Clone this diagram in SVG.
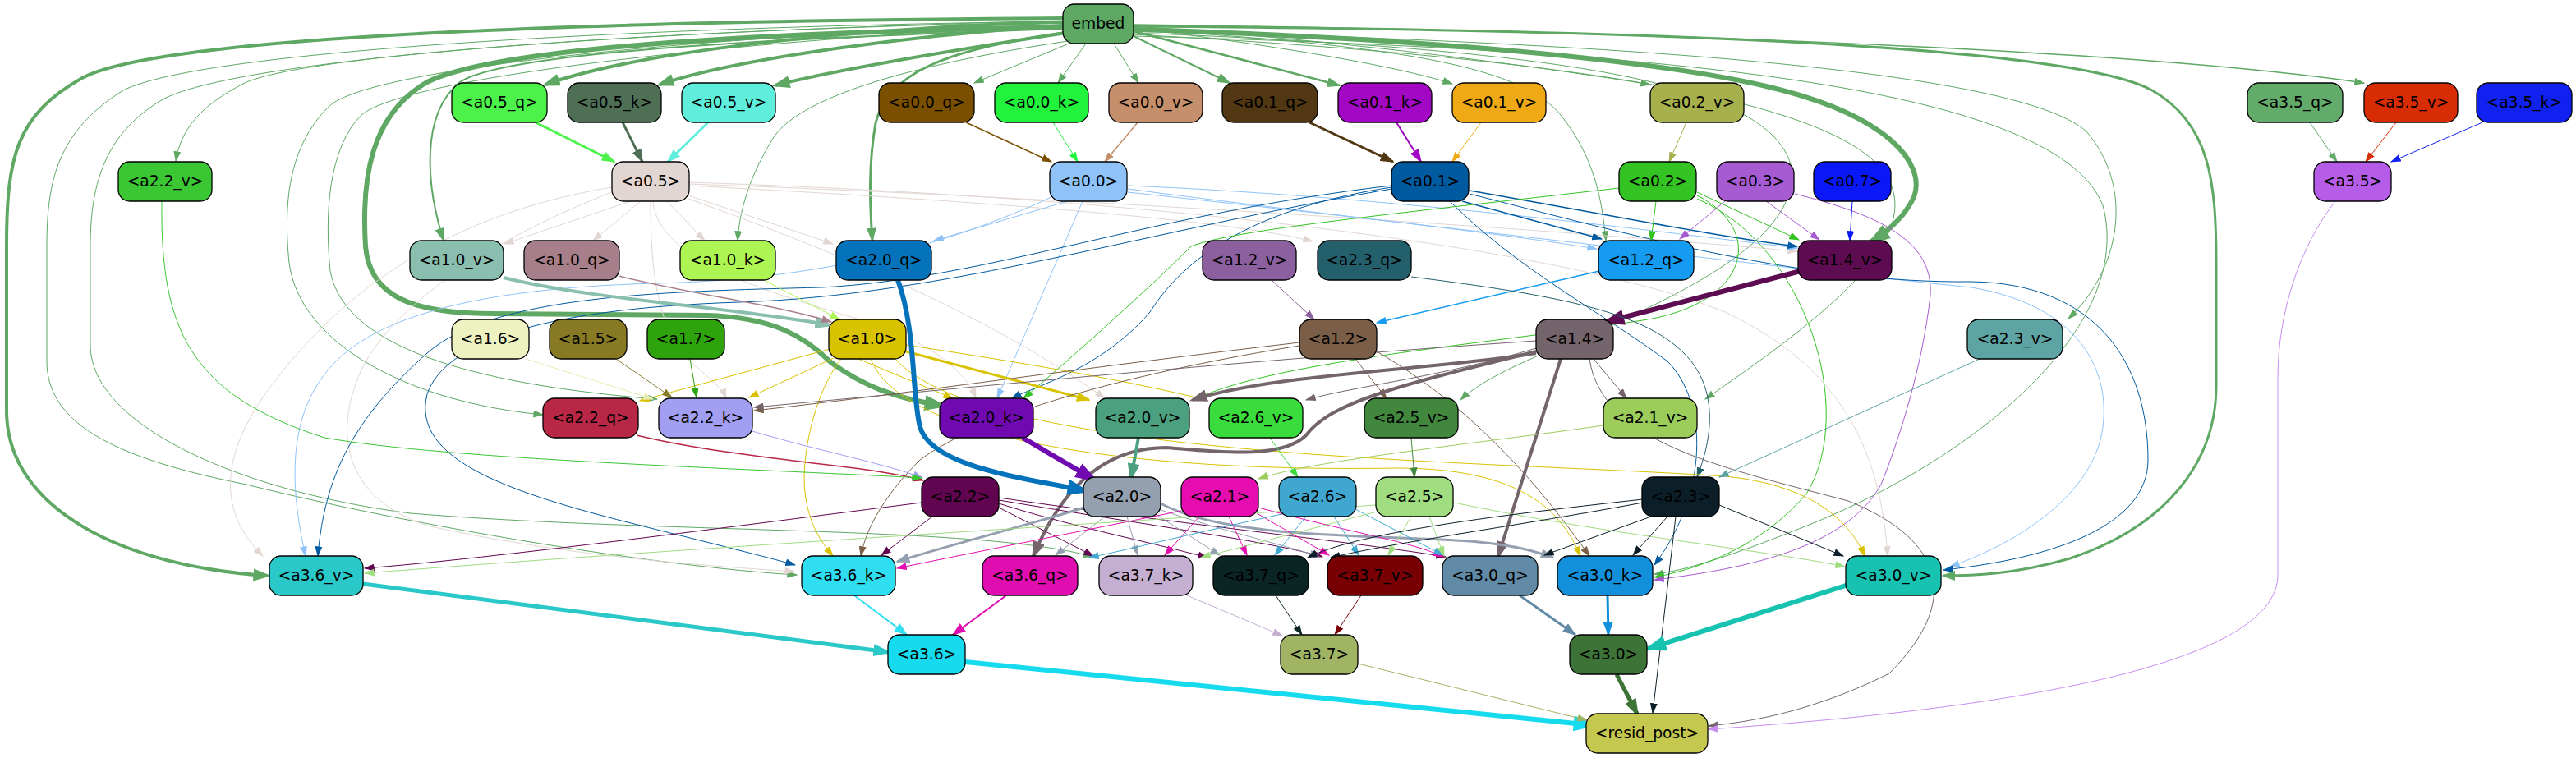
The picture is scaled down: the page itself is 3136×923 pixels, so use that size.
<svg xmlns="http://www.w3.org/2000/svg" width="3136" height="923" viewBox="0 0 3136 923">
<style>
.n rect{stroke:#000;stroke-width:1.3}
.n text{font-family:"DejaVu Sans","Liberation Sans",sans-serif;font-size:18.67px;text-anchor:middle;fill:#000}
#edges path{fill:none}
</style>
<defs>
<marker id="s-emb" viewBox="0 0 10 10" refX="9" refY="5" markerWidth="13" markerHeight="9" markerUnits="userSpaceOnUse" orient="auto" preserveAspectRatio="none"><path d="M0,0L10,5L0,10z" fill="#5ea864"/></marker>
<marker id="m-emb" viewBox="0 0 10 10" refX="9" refY="5" markerWidth="17" markerHeight="12" markerUnits="userSpaceOnUse" orient="auto" preserveAspectRatio="none"><path d="M0,0L10,5L0,10z" fill="#5ea864"/></marker>
<marker id="l-emb" viewBox="0 0 10 10" refX="8" refY="5" markerWidth="22" markerHeight="15" markerUnits="userSpaceOnUse" orient="auto" preserveAspectRatio="none"><path d="M0,0L10,5L0,10z" fill="#5ea864"/></marker>
<marker id="x-emb" viewBox="0 0 10 10" refX="8" refY="5" markerWidth="28" markerHeight="19" markerUnits="userSpaceOnUse" orient="auto" preserveAspectRatio="none"><path d="M0,0L10,5L0,10z" fill="#5ea864"/></marker>
<marker id="m-a05q" viewBox="0 0 10 10" refX="9" refY="5" markerWidth="17" markerHeight="12" markerUnits="userSpaceOnUse" orient="auto" preserveAspectRatio="none"><path d="M0,0L10,5L0,10z" fill="#4cf24a"/></marker>
<marker id="m-a05k" viewBox="0 0 10 10" refX="9" refY="5" markerWidth="17" markerHeight="12" markerUnits="userSpaceOnUse" orient="auto" preserveAspectRatio="none"><path d="M0,0L10,5L0,10z" fill="#4f6f54"/></marker>
<marker id="m-a05v" viewBox="0 0 10 10" refX="9" refY="5" markerWidth="17" markerHeight="12" markerUnits="userSpaceOnUse" orient="auto" preserveAspectRatio="none"><path d="M0,0L10,5L0,10z" fill="#5eeedb"/></marker>
<marker id="s-a00q" viewBox="0 0 10 10" refX="9" refY="5" markerWidth="13" markerHeight="9" markerUnits="userSpaceOnUse" orient="auto" preserveAspectRatio="none"><path d="M0,0L10,5L0,10z" fill="#7a5000"/></marker>
<marker id="s-a00k" viewBox="0 0 10 10" refX="9" refY="5" markerWidth="13" markerHeight="9" markerUnits="userSpaceOnUse" orient="auto" preserveAspectRatio="none"><path d="M0,0L10,5L0,10z" fill="#21f23c"/></marker>
<marker id="s-a00v" viewBox="0 0 10 10" refX="9" refY="5" markerWidth="13" markerHeight="9" markerUnits="userSpaceOnUse" orient="auto" preserveAspectRatio="none"><path d="M0,0L10,5L0,10z" fill="#c48f6a"/></marker>
<marker id="m-a01q" viewBox="0 0 10 10" refX="9" refY="5" markerWidth="17" markerHeight="12" markerUnits="userSpaceOnUse" orient="auto" preserveAspectRatio="none"><path d="M0,0L10,5L0,10z" fill="#523812"/></marker>
<marker id="m-a01k" viewBox="0 0 10 10" refX="9" refY="5" markerWidth="17" markerHeight="12" markerUnits="userSpaceOnUse" orient="auto" preserveAspectRatio="none"><path d="M0,0L10,5L0,10z" fill="#a208c4"/></marker>
<marker id="s-a01v" viewBox="0 0 10 10" refX="9" refY="5" markerWidth="13" markerHeight="9" markerUnits="userSpaceOnUse" orient="auto" preserveAspectRatio="none"><path d="M0,0L10,5L0,10z" fill="#eea914"/></marker>
<marker id="s-a02v" viewBox="0 0 10 10" refX="9" refY="5" markerWidth="13" markerHeight="9" markerUnits="userSpaceOnUse" orient="auto" preserveAspectRatio="none"><path d="M0,0L10,5L0,10z" fill="#a6b04c"/></marker>
<marker id="s-a35q" viewBox="0 0 10 10" refX="9" refY="5" markerWidth="13" markerHeight="9" markerUnits="userSpaceOnUse" orient="auto" preserveAspectRatio="none"><path d="M0,0L10,5L0,10z" fill="#63ab6a"/></marker>
<marker id="s-a35v" viewBox="0 0 10 10" refX="9" refY="5" markerWidth="13" markerHeight="9" markerUnits="userSpaceOnUse" orient="auto" preserveAspectRatio="none"><path d="M0,0L10,5L0,10z" fill="#d82c04"/></marker>
<marker id="s-a35k" viewBox="0 0 10 10" refX="9" refY="5" markerWidth="13" markerHeight="9" markerUnits="userSpaceOnUse" orient="auto" preserveAspectRatio="none"><path d="M0,0L10,5L0,10z" fill="#1021f0"/></marker>
<marker id="s-a05" viewBox="0 0 10 10" refX="9" refY="5" markerWidth="13" markerHeight="9" markerUnits="userSpaceOnUse" orient="auto" preserveAspectRatio="none"><path d="M0,0L10,5L0,10z" fill="#e2d6d2"/></marker>
<marker id="s-a00" viewBox="0 0 10 10" refX="9" refY="5" markerWidth="13" markerHeight="9" markerUnits="userSpaceOnUse" orient="auto" preserveAspectRatio="none"><path d="M0,0L10,5L0,10z" fill="#8fc3f8"/></marker>
<marker id="s-a01" viewBox="0 0 10 10" refX="9" refY="5" markerWidth="13" markerHeight="9" markerUnits="userSpaceOnUse" orient="auto" preserveAspectRatio="none"><path d="M0,0L10,5L0,10z" fill="#005aa0"/></marker>
<marker id="s-a02" viewBox="0 0 10 10" refX="9" refY="5" markerWidth="13" markerHeight="9" markerUnits="userSpaceOnUse" orient="auto" preserveAspectRatio="none"><path d="M0,0L10,5L0,10z" fill="#33c322"/></marker>
<marker id="s-a03" viewBox="0 0 10 10" refX="9" refY="5" markerWidth="13" markerHeight="9" markerUnits="userSpaceOnUse" orient="auto" preserveAspectRatio="none"><path d="M0,0L10,5L0,10z" fill="#a75bd3"/></marker>
<marker id="s-a07" viewBox="0 0 10 10" refX="9" refY="5" markerWidth="13" markerHeight="9" markerUnits="userSpaceOnUse" orient="auto" preserveAspectRatio="none"><path d="M0,0L10,5L0,10z" fill="#0a17f6"/></marker>
<marker id="l-a10v" viewBox="0 0 10 10" refX="8" refY="5" markerWidth="22" markerHeight="15" markerUnits="userSpaceOnUse" orient="auto" preserveAspectRatio="none"><path d="M0,0L10,5L0,10z" fill="#8abfb0"/></marker>
<marker id="s-a10q" viewBox="0 0 10 10" refX="9" refY="5" markerWidth="13" markerHeight="9" markerUnits="userSpaceOnUse" orient="auto" preserveAspectRatio="none"><path d="M0,0L10,5L0,10z" fill="#a67f8b"/></marker>
<marker id="s-a10k" viewBox="0 0 10 10" refX="9" refY="5" markerWidth="13" markerHeight="9" markerUnits="userSpaceOnUse" orient="auto" preserveAspectRatio="none"><path d="M0,0L10,5L0,10z" fill="#acf552"/></marker>
<marker id="s-a12v" viewBox="0 0 10 10" refX="9" refY="5" markerWidth="13" markerHeight="9" markerUnits="userSpaceOnUse" orient="auto" preserveAspectRatio="none"><path d="M0,0L10,5L0,10z" fill="#8c5f9f"/></marker>
<marker id="s-a12q" viewBox="0 0 10 10" refX="9" refY="5" markerWidth="13" markerHeight="9" markerUnits="userSpaceOnUse" orient="auto" preserveAspectRatio="none"><path d="M0,0L10,5L0,10z" fill="#159bf0"/></marker>
<marker id="x-a14v" viewBox="0 0 10 10" refX="8" refY="5" markerWidth="28" markerHeight="19" markerUnits="userSpaceOnUse" orient="auto" preserveAspectRatio="none"><path d="M0,0L10,5L0,10z" fill="#5d0c52"/></marker>
<marker id="s-a23q" viewBox="0 0 10 10" refX="9" refY="5" markerWidth="13" markerHeight="9" markerUnits="userSpaceOnUse" orient="auto" preserveAspectRatio="none"><path d="M0,0L10,5L0,10z" fill="#245f6c"/></marker>
<marker id="s-a10" viewBox="0 0 10 10" refX="9" refY="5" markerWidth="13" markerHeight="9" markerUnits="userSpaceOnUse" orient="auto" preserveAspectRatio="none"><path d="M0,0L10,5L0,10z" fill="#d9c200"/></marker>
<marker id="m-a10" viewBox="0 0 10 10" refX="9" refY="5" markerWidth="17" markerHeight="12" markerUnits="userSpaceOnUse" orient="auto" preserveAspectRatio="none"><path d="M0,0L10,5L0,10z" fill="#d9c200"/></marker>
<marker id="s-a16" viewBox="0 0 10 10" refX="9" refY="5" markerWidth="13" markerHeight="9" markerUnits="userSpaceOnUse" orient="auto" preserveAspectRatio="none"><path d="M0,0L10,5L0,10z" fill="#e8ecb4"/></marker>
<marker id="s-a15" viewBox="0 0 10 10" refX="9" refY="5" markerWidth="13" markerHeight="9" markerUnits="userSpaceOnUse" orient="auto" preserveAspectRatio="none"><path d="M0,0L10,5L0,10z" fill="#887a24"/></marker>
<marker id="s-a17" viewBox="0 0 10 10" refX="9" refY="5" markerWidth="13" markerHeight="9" markerUnits="userSpaceOnUse" orient="auto" preserveAspectRatio="none"><path d="M0,0L10,5L0,10z" fill="#2ea30c"/></marker>
<marker id="s-a12" viewBox="0 0 10 10" refX="9" refY="5" markerWidth="13" markerHeight="9" markerUnits="userSpaceOnUse" orient="auto" preserveAspectRatio="none"><path d="M0,0L10,5L0,10z" fill="#7a5e47"/></marker>
<marker id="s-a14" viewBox="0 0 10 10" refX="9" refY="5" markerWidth="13" markerHeight="9" markerUnits="userSpaceOnUse" orient="auto" preserveAspectRatio="none"><path d="M0,0L10,5L0,10z" fill="#74646c"/></marker>
<marker id="l-a14" viewBox="0 0 10 10" refX="8" refY="5" markerWidth="22" markerHeight="15" markerUnits="userSpaceOnUse" orient="auto" preserveAspectRatio="none"><path d="M0,0L10,5L0,10z" fill="#74646c"/></marker>
<marker id="s-a23v" viewBox="0 0 10 10" refX="9" refY="5" markerWidth="13" markerHeight="9" markerUnits="userSpaceOnUse" orient="auto" preserveAspectRatio="none"><path d="M0,0L10,5L0,10z" fill="#5ea4a4"/></marker>
<marker id="s-a22q" viewBox="0 0 10 10" refX="9" refY="5" markerWidth="13" markerHeight="9" markerUnits="userSpaceOnUse" orient="auto" preserveAspectRatio="none"><path d="M0,0L10,5L0,10z" fill="#b82746"/></marker>
<marker id="s-a22k" viewBox="0 0 10 10" refX="9" refY="5" markerWidth="13" markerHeight="9" markerUnits="userSpaceOnUse" orient="auto" preserveAspectRatio="none"><path d="M0,0L10,5L0,10z" fill="#a29ef2"/></marker>
<marker id="s-a22v" viewBox="0 0 10 10" refX="9" refY="5" markerWidth="13" markerHeight="9" markerUnits="userSpaceOnUse" orient="auto" preserveAspectRatio="none"><path d="M0,0L10,5L0,10z" fill="#3bc634"/></marker>
<marker id="x-a20q" viewBox="0 0 10 10" refX="8" refY="5" markerWidth="28" markerHeight="19" markerUnits="userSpaceOnUse" orient="auto" preserveAspectRatio="none"><path d="M0,0L10,5L0,10z" fill="#0473bb"/></marker>
<marker id="x-a20k" viewBox="0 0 10 10" refX="8" refY="5" markerWidth="28" markerHeight="19" markerUnits="userSpaceOnUse" orient="auto" preserveAspectRatio="none"><path d="M0,0L10,5L0,10z" fill="#700ab0"/></marker>
<marker id="l-a20v" viewBox="0 0 10 10" refX="8" refY="5" markerWidth="22" markerHeight="15" markerUnits="userSpaceOnUse" orient="auto" preserveAspectRatio="none"><path d="M0,0L10,5L0,10z" fill="#4ba17f"/></marker>
<marker id="s-a21v" viewBox="0 0 10 10" refX="9" refY="5" markerWidth="13" markerHeight="9" markerUnits="userSpaceOnUse" orient="auto" preserveAspectRatio="none"><path d="M0,0L10,5L0,10z" fill="#9ccc5a"/></marker>
<marker id="s-a26v" viewBox="0 0 10 10" refX="9" refY="5" markerWidth="13" markerHeight="9" markerUnits="userSpaceOnUse" orient="auto" preserveAspectRatio="none"><path d="M0,0L10,5L0,10z" fill="#39dc3c"/></marker>
<marker id="s-a25v" viewBox="0 0 10 10" refX="9" refY="5" markerWidth="13" markerHeight="9" markerUnits="userSpaceOnUse" orient="auto" preserveAspectRatio="none"><path d="M0,0L10,5L0,10z" fill="#41873d"/></marker>
<marker id="s-a22" viewBox="0 0 10 10" refX="9" refY="5" markerWidth="13" markerHeight="9" markerUnits="userSpaceOnUse" orient="auto" preserveAspectRatio="none"><path d="M0,0L10,5L0,10z" fill="#620550"/></marker>
<marker id="s-a20" viewBox="0 0 10 10" refX="9" refY="5" markerWidth="13" markerHeight="9" markerUnits="userSpaceOnUse" orient="auto" preserveAspectRatio="none"><path d="M0,0L10,5L0,10z" fill="#94a0b0"/></marker>
<marker id="m-a20" viewBox="0 0 10 10" refX="9" refY="5" markerWidth="17" markerHeight="12" markerUnits="userSpaceOnUse" orient="auto" preserveAspectRatio="none"><path d="M0,0L10,5L0,10z" fill="#94a0b0"/></marker>
<marker id="s-a21" viewBox="0 0 10 10" refX="9" refY="5" markerWidth="13" markerHeight="9" markerUnits="userSpaceOnUse" orient="auto" preserveAspectRatio="none"><path d="M0,0L10,5L0,10z" fill="#e60db0"/></marker>
<marker id="s-a26" viewBox="0 0 10 10" refX="9" refY="5" markerWidth="13" markerHeight="9" markerUnits="userSpaceOnUse" orient="auto" preserveAspectRatio="none"><path d="M0,0L10,5L0,10z" fill="#40a8d0"/></marker>
<marker id="s-a25" viewBox="0 0 10 10" refX="9" refY="5" markerWidth="13" markerHeight="9" markerUnits="userSpaceOnUse" orient="auto" preserveAspectRatio="none"><path d="M0,0L10,5L0,10z" fill="#a0dc80"/></marker>
<marker id="s-a23" viewBox="0 0 10 10" refX="9" refY="5" markerWidth="13" markerHeight="9" markerUnits="userSpaceOnUse" orient="auto" preserveAspectRatio="none"><path d="M0,0L10,5L0,10z" fill="#0c1f28"/></marker>
<marker id="l-a36v" viewBox="0 0 10 10" refX="8" refY="5" markerWidth="22" markerHeight="15" markerUnits="userSpaceOnUse" orient="auto" preserveAspectRatio="none"><path d="M0,0L10,5L0,10z" fill="#2ac8c8"/></marker>
<marker id="m-a36k" viewBox="0 0 10 10" refX="9" refY="5" markerWidth="17" markerHeight="12" markerUnits="userSpaceOnUse" orient="auto" preserveAspectRatio="none"><path d="M0,0L10,5L0,10z" fill="#30def2"/></marker>
<marker id="m-a36q" viewBox="0 0 10 10" refX="9" refY="5" markerWidth="17" markerHeight="12" markerUnits="userSpaceOnUse" orient="auto" preserveAspectRatio="none"><path d="M0,0L10,5L0,10z" fill="#e00eb0"/></marker>
<marker id="s-a37k" viewBox="0 0 10 10" refX="9" refY="5" markerWidth="13" markerHeight="9" markerUnits="userSpaceOnUse" orient="auto" preserveAspectRatio="none"><path d="M0,0L10,5L0,10z" fill="#c4aed2"/></marker>
<marker id="s-a37q" viewBox="0 0 10 10" refX="9" refY="5" markerWidth="13" markerHeight="9" markerUnits="userSpaceOnUse" orient="auto" preserveAspectRatio="none"><path d="M0,0L10,5L0,10z" fill="#0b2424"/></marker>
<marker id="s-a37v" viewBox="0 0 10 10" refX="9" refY="5" markerWidth="13" markerHeight="9" markerUnits="userSpaceOnUse" orient="auto" preserveAspectRatio="none"><path d="M0,0L10,5L0,10z" fill="#780005"/></marker>
<marker id="m-a30q" viewBox="0 0 10 10" refX="9" refY="5" markerWidth="17" markerHeight="12" markerUnits="userSpaceOnUse" orient="auto" preserveAspectRatio="none"><path d="M0,0L10,5L0,10z" fill="#608aa6"/></marker>
<marker id="m-a30k" viewBox="0 0 10 10" refX="9" refY="5" markerWidth="17" markerHeight="12" markerUnits="userSpaceOnUse" orient="auto" preserveAspectRatio="none"><path d="M0,0L10,5L0,10z" fill="#1390dc"/></marker>
<marker id="x-a30v" viewBox="0 0 10 10" refX="8" refY="5" markerWidth="28" markerHeight="19" markerUnits="userSpaceOnUse" orient="auto" preserveAspectRatio="none"><path d="M0,0L10,5L0,10z" fill="#18c2b0"/></marker>
<marker id="x-a36" viewBox="0 0 10 10" refX="8" refY="5" markerWidth="28" markerHeight="19" markerUnits="userSpaceOnUse" orient="auto" preserveAspectRatio="none"><path d="M0,0L10,5L0,10z" fill="#16dbef"/></marker>
<marker id="s-a37" viewBox="0 0 10 10" refX="9" refY="5" markerWidth="13" markerHeight="9" markerUnits="userSpaceOnUse" orient="auto" preserveAspectRatio="none"><path d="M0,0L10,5L0,10z" fill="#a0b464"/></marker>
<marker id="l-a30" viewBox="0 0 10 10" refX="8" refY="5" markerWidth="22" markerHeight="15" markerUnits="userSpaceOnUse" orient="auto" preserveAspectRatio="none"><path d="M0,0L10,5L0,10z" fill="#3e7338"/></marker>
<marker id="s-a35" viewBox="0 0 10 10" refX="9" refY="5" markerWidth="13" markerHeight="9" markerUnits="userSpaceOnUse" orient="auto" preserveAspectRatio="none"><path d="M0,0L10,5L0,10z" fill="#c98cf0"/></marker>
</defs>
<rect width="3136" height="923" fill="#fff"/>
<g id="edges">
<g stroke="#5ea864">
<path stroke-width="4" marker-end="url(#l-emb)" d="M1294,27 C1100,32 800,55 664,103"/>
<path stroke-width="4" marker-end="url(#l-emb)" d="M1294,31 C1120,42 900,70 803,103"/>
<path stroke-width="4" marker-end="url(#l-emb)" d="M1298,40 C1200,55 1030,82 944,104"/>
<path stroke-width="1" marker-end="url(#s-emb)" d="M1306,51 L1186,101"/>
<path stroke-width="1" marker-end="url(#s-emb)" d="M1322,53 L1288,101"/>
<path stroke-width="1" marker-end="url(#s-emb)" d="M1356,53 L1386,101"/>
<path stroke-width="2" marker-end="url(#m-emb)" d="M1380,44 L1497,101"/>
<path stroke-width="2.5" marker-end="url(#m-emb)" d="M1380,38 L1631,104"/>
<path stroke-width="1" marker-end="url(#s-emb)" d="M1380,34 C1550,55 1700,80 1768,102"/>
<path stroke-width="1" marker-end="url(#s-emb)" d="M1380,32 C1650,50 1900,85 2009,103"/>
<path stroke-width="1.5" marker-end="url(#s-emb)" d="M1380,30 C2000,38 2600,60 2878,101"/>
<path stroke-width="6" marker-end="url(#x-emb)" d="M1380,36 C1700,45 2000,70 2150,105 C2300,140 2345,200 2330,240 C2318,265 2300,280 2278,294"/>
<path stroke-width="3" marker-end="url(#m-emb)" d="M1380,32 C2000,36 2520,55 2620,110 C2690,150 2698,220 2698,320 L2698,470 C2698,560 2640,640 2520,680 C2450,700 2400,701 2365,701"/>
<path stroke-width="1" marker-end="url(#s-emb)" d="M1380,37 C1900,50 2450,80 2540,160 C2600,230 2580,330 2518,388"/>
<path stroke-width="4" marker-end="url(#l-emb)" d="M1294,22 C800,25 200,40 100,95 C20,140 8,190 8,300 L8,500 C8,620 150,690 326,701"/>
<path stroke-width="1" marker-end="url(#s-emb)" d="M1294,25 C900,35 400,60 300,100 C240,130 220,160 214,196"/>
<path stroke-width="1" marker-end="url(#s-emb)" d="M1294,26 C800,32 250,60 150,110 C70,160 57,220 57,300 L57,440 C57,520 150,560 300,590 C500,640 800,690 970,700"/>
<path stroke-width="1" marker-end="url(#s-emb)" d="M1294,27 C800,35 300,70 200,120 C130,160 110,220 110,300 L110,420 C110,520 300,600 500,625 C800,650 1200,640 1330,678"/>
<path stroke-width="1" marker-end="url(#s-emb)" d="M1294,30 C900,40 450,80 400,130 C350,180 345,250 352,320 C365,420 500,490 661,505"/>
<path stroke-width="1" marker-end="url(#s-emb)" d="M1294,31 C950,45 500,90 440,140 C400,180 395,260 402,330 C420,430 600,470 800,486"/>
<path stroke-width="2" marker-end="url(#m-emb)" d="M1294,35 C1000,45 620,60 560,100 C510,140 520,230 540,293"/>
<path stroke-width="1" marker-end="url(#s-emb)" d="M1300,50 C1100,80 970,120 940,170 C910,220 900,260 898,293"/>
<path stroke-width="6" marker-end="url(#x-emb)" d="M1294,33 C900,40 600,60 520,100 C450,140 440,220 445,300 C450,360 500,382 600,382 L860,384 C940,386 980,410 1010,440 C1050,470 1090,485 1148,494"/>
<path stroke-width="3" marker-end="url(#m-emb)" d="M1294,40 C1150,60 1080,90 1066,150 C1057,200 1059,250 1062,293"/>
<path stroke-width="1" marker-end="url(#s-emb)" d="M1380,36 C1700,55 1850,80 1900,140 C1940,190 1950,240 1955,293"/>
<path stroke-width="1" marker-end="url(#s-emb)" d="M1380,40 C1900,60 2150,100 2180,200 C2200,300 2000,380 1880,430 C1820,455 1790,475 1778,487"/>
<path stroke-width="1" marker-end="url(#s-emb)" d="M1380,42 C1900,70 2250,120 2300,220 C2340,300 2200,400 2076,486"/>
<path stroke-width="1" marker-end="url(#s-emb)" d="M1380,44 C2000,60 2500,100 2560,250 C2600,400 2400,560 2200,640 C2100,680 2050,695 2014,699"/>
</g>
<path stroke="#4cf24a" stroke-width="3" marker-end="url(#m-a05q)" d="M652,149 L748,197"/>
<path stroke="#4f6f54" stroke-width="3" marker-end="url(#m-a05k)" d="M758,149 L782,197"/>
<path stroke="#5eeedb" stroke-width="3" marker-end="url(#m-a05v)" d="M862,149 L813,197"/>
<path stroke="#7a5000" stroke-width="1.5" marker-end="url(#s-a00q)" d="M1176,149 L1280,197"/>
<path stroke="#21f23c" stroke-width="1" marker-end="url(#s-a00k)" d="M1282,149 L1312,197"/>
<path stroke="#c48f6a" stroke-width="1.5" marker-end="url(#s-a00v)" d="M1385,149 L1345,197"/>
<path stroke="#523812" stroke-width="3" marker-end="url(#m-a01q)" d="M1594,149 L1696,197"/>
<path stroke="#a208c4" stroke-width="2" marker-end="url(#m-a01k)" d="M1700,149 L1730,197"/>
<path stroke="#eea914" stroke-width="1" marker-end="url(#s-a01v)" d="M1803,149 L1768,197"/>
<path stroke="#a6b04c" stroke-width="1" marker-end="url(#s-a02v)" d="M2053,149 L2032,197"/>
<path stroke="#63ab6a" stroke-width="1" marker-end="url(#s-a35q)" d="M2812,149 L2845,197"/>
<path stroke="#d82c04" stroke-width="1" marker-end="url(#s-a35v)" d="M2917,149 L2880,197"/>
<path stroke="#1021f0" stroke-width="1" marker-end="url(#s-a35k)" d="M3022,149 L2911,197"/>
<g stroke="#e2d6d2" stroke-width="1">
<path marker-end="url(#s-a05)" d="M768,245 L614,297"/>
<path marker-end="url(#s-a05)" d="M780,245 L722,293"/>
<path marker-end="url(#s-a05)" d="M812,245 L858,293"/>
<path marker-end="url(#s-a05)" d="M838,238 L1014,297"/>
<path marker-end="url(#s-a05)" d="M838,226 C1200,245 1500,268 1598,294"/>
<path marker-end="url(#s-a05)" d="M795,245 C800,320 950,360 1050,390 C1130,415 1175,450 1188,485"/>
<path marker-end="url(#s-a05)" d="M838,242 C1000,300 1200,380 1345,485"/>
<path marker-end="url(#s-a05)" d="M745,228 C550,260 420,350 330,470 C270,550 262,620 320,677"/>
<path marker-end="url(#s-a05)" d="M745,234 C600,290 480,370 440,450 C400,540 430,610 520,640 C700,680 880,690 967,696"/>
<path marker-end="url(#s-a05)" d="M838,222 C1400,240 1900,300 2100,380 C2250,450 2290,560 2298,677"/>
<path marker-end="url(#s-a05)" d="M838,224 C1300,240 1900,280 2188,306"/>
<path marker-end="url(#s-a05)" d="M792,245 C792,330 800,400 840,440 C870,465 880,475 884,485"/>
</g>
<g stroke="#8fc3f8" stroke-width="1">
<path marker-end="url(#s-a00)" d="M1300,245 L1137,293"/>
<path marker-end="url(#s-a00)" d="M1318,245 L1214,485"/>
<path marker-end="url(#s-a00)" d="M1373,230 C1600,260 1800,280 1944,303"/>
<path marker-end="url(#s-a00)" d="M1373,226 C1700,240 2000,280 2188,302"/>
<path marker-end="url(#s-a00)" d="M1280,240 C1150,300 1000,340 800,345 C600,350 480,380 420,430 C360,480 345,560 372,677"/>
<path marker-end="url(#s-a00)" d="M1373,234 C1800,280 2200,330 2400,350 C2520,370 2570,440 2560,520 C2550,600 2460,660 2374,690"/>
</g>
<g stroke="#005aa0" stroke-width="1">
<path stroke-width="1.5" marker-end="url(#s-a01)" d="M1780,245 L1950,291"/>
<path stroke-width="1.5" marker-end="url(#s-a01)" d="M1789,232 C1950,260 2100,290 2188,300"/>
<path marker-end="url(#s-a01)" d="M1694,228 C1550,250 1450,300 1400,380 C1340,450 1260,470 1232,485"/>
<path marker-end="url(#s-a01)" d="M1694,226 C1400,260 1200,340 1000,350 C800,355 600,360 520,430 C430,510 395,580 387,677"/>
<path marker-end="url(#s-a01)" d="M1694,230 C1400,280 1150,360 900,368 C650,376 540,420 520,480 C500,560 620,600 780,640 C880,665 940,680 968,688"/>
<path marker-end="url(#s-a01)" d="M1765,245 C1850,330 1950,380 2030,440 C2080,490 2080,600 2014,688"/>
<path marker-end="url(#s-a01)" d="M1789,236 C2000,290 2200,345 2400,343 C2550,345 2615,440 2615,560 C2615,640 2500,680 2366,694"/>
</g>
<g stroke="#33c322" stroke-width="1">
<path marker-end="url(#s-a02)" d="M2016,245 L2010,293"/>
<path marker-end="url(#s-a02)" d="M2066,234 L2190,292"/>
<path marker-end="url(#s-a02)" d="M1971,229 C1700,260 1500,280 1450,300 C1400,350 1300,440 1246,485"/>
<path marker-end="url(#s-a02)" d="M2066,238 C2150,280 2130,370 2000,390 C1800,420 1550,440 1453,487"/>
<path marker-end="url(#s-a02)" d="M2066,242 C2200,300 2260,500 2200,600 C2150,660 2080,690 2014,703"/>
</g>
<g stroke="#a75bd3" stroke-width="1">
<path marker-end="url(#s-a03)" d="M2100,245 L2045,291"/>
<path marker-end="url(#s-a03)" d="M2150,245 L2215,292"/>
<path marker-end="url(#s-a03)" d="M2185,236 C2280,260 2355,290 2350,360 C2340,450 2310,540 2290,590 C2250,660 2150,690 2014,706"/>
</g>
<path stroke="#0a17f6" stroke-width="1" marker-end="url(#s-a07)" d="M2255,245 L2252,293"/>
<path stroke="#8abfb0" stroke-width="4" marker-end="url(#l-a10v)" d="M613,338 C720,365 900,375 1010,396"/>
<path stroke="#a67f8b" stroke-width="1.5" marker-end="url(#s-a10q)" d="M753,336 C850,360 950,372 1012,392"/>
<path stroke="#acf552" stroke-width="1" marker-end="url(#s-a10k)" d="M930,341 L1022,389"/>
<path stroke="#8c5f9f" stroke-width="1" marker-end="url(#s-a12v)" d="M1548,341 L1600,389"/>
<path stroke="#159bf0" stroke-width="1.5" marker-end="url(#s-a12q)" d="M1947,330 L1676,393"/>
<path stroke="#5d0c52" stroke-width="6" marker-end="url(#x-a14v)" d="M2192,330 L1955,392"/>
<path stroke="#245f6c" stroke-width="1" marker-end="url(#s-a23q)" d="M1718,337 C1900,360 2000,380 2050,430 C2100,480 2078,550 2066,581"/>
<g stroke="#d9c200" stroke-width="1">
<path marker-end="url(#s-a10)" d="M1010,425 L779,488"/>
<path marker-end="url(#s-a10)" d="M1015,436 L912,484"/>
<path marker-end="url(#s-a10)" d="M1045,437 L1160,485"/>
<path stroke-width="3" marker-end="url(#m-a10)" d="M1103,428 L1326,487"/>
<path marker-end="url(#s-a10)" d="M1103,420 C1300,450 1400,470 1468,487"/>
<path marker-end="url(#s-a10)" d="M1024,437 C990,480 975,560 980,600 C985,640 1000,660 1014,677"/>
<path marker-end="url(#s-a10)" d="M1060,437 C1100,540 1400,575 1700,570 C1850,570 1900,620 1924,677"/>
<path marker-end="url(#s-a10)" d="M1090,437 C1200,560 1800,560 2100,580 C2200,590 2250,630 2270,677"/>
</g>
<path stroke="#e8ecb4" stroke-width="1" marker-end="url(#s-a16)" d="M640,437 L795,486"/>
<path stroke="#887a24" stroke-width="1" marker-end="url(#s-a15)" d="M750,437 L818,484"/>
<path stroke="#2ea30c" stroke-width="1" marker-end="url(#s-a17)" d="M840,437 L848,484"/>
<g stroke="#7a5e47" stroke-width="1">
<path marker-end="url(#s-a12)" d="M1582,417 C1300,450 1100,480 918,500"/>
<path marker-end="url(#s-a12)" d="M1650,437 L1688,485"/>
<path marker-end="url(#s-a12)" d="M1676,428 C1800,500 1880,600 1935,677"/>
<path marker-end="url(#s-a12)" d="M1582,421 C1400,450 1200,500 1120,560 C1080,600 1055,640 1048,677"/>
</g>
<g stroke="#74646c">
<path stroke-width="4" marker-end="url(#l-a14)" d="M1870,430 C1750,450 1550,455 1452,487"/>
<path stroke-width="4" marker-end="url(#l-a14)" d="M1870,428 C1700,470 1620,490 1590,530 C1560,560 1480,550 1420,545 C1340,545 1290,600 1258,677"/>
<path stroke-width="4" marker-end="url(#l-a14)" d="M1900,437 L1824,677"/>
<path stroke-width="1" marker-end="url(#s-a14)" d="M1940,437 L1980,485"/>
<path stroke-width="1" marker-end="url(#s-a14)" d="M1870,415 C1500,440 1200,470 918,496"/>
<path stroke-width="1" marker-end="url(#s-a14)" d="M1870,424 C1750,460 1650,470 1590,487"/>
<path stroke-width="1" marker-end="url(#s-a14)" d="M1935,437 C1950,540 2100,570 2250,610 C2350,650 2400,720 2300,820 C2200,870 2120,880 2080,884"/>
</g>
<path stroke="#5ea4a4" stroke-width="1" marker-end="url(#s-a23v)" d="M2410,437 L2093,581"/>
<path stroke="#b82746" stroke-width="1.5" marker-end="url(#s-a22q)" d="M775,530 C900,560 1050,565 1124,585"/>
<path stroke="#a29ef2" stroke-width="1" marker-end="url(#s-a22k)" d="M916,525 C1000,550 1080,565 1123,582"/>
<path stroke="#3bc634" stroke-width="1" marker-end="url(#s-a22v)" d="M197,245 C195,400 230,480 395,533 C550,560 900,570 1122,582"/>
<path stroke="#0473bb" stroke-width="6" marker-end="url(#x-a20q)" d="M1093,341 C1115,400 1110,480 1120,520 C1135,570 1250,582 1322,598"/>
<path stroke="#700ab0" stroke-width="6" marker-end="url(#x-a20k)" d="M1245,533 L1332,584"/>
<path stroke="#4ba17f" stroke-width="4" marker-end="url(#l-a20v)" d="M1386,533 L1377,582"/>
<path stroke="#9ccc5a" stroke-width="1" marker-end="url(#s-a21v)" d="M1952,518 C1800,540 1600,560 1532,583"/>
<path stroke="#39dc3c" stroke-width="1" marker-end="url(#s-a26v)" d="M1546,533 L1580,581"/>
<path stroke="#41873d" stroke-width="1" marker-end="url(#s-a25v)" d="M1718,533 L1722,581"/>
<g stroke="#620550" stroke-width="1">
<path marker-end="url(#s-a22)" d="M1122,612 C900,640 600,680 444,692"/>
<path marker-end="url(#s-a22)" d="M1135,629 L1073,676"/>
<path marker-end="url(#s-a22)" d="M1216,618 L1331,677"/>
<path marker-end="url(#s-a22)" d="M1216,613 C1300,640 1400,660 1470,679"/>
<path marker-end="url(#s-a22)" d="M1216,609 C1400,640 1550,660 1610,678"/>
<path marker-end="url(#s-a22)" d="M1216,606 C1450,640 1650,660 1760,678"/>
</g>
<g stroke="#94a0b0" stroke-width="1">
<path stroke-width="3" marker-end="url(#m-a20)" d="M1320,618 C1250,640 1150,665 1092,684"/>
<path marker-end="url(#s-a20)" d="M1345,629 L1285,676"/>
<path marker-end="url(#s-a20)" d="M1372,629 L1385,676"/>
<path marker-end="url(#s-a20)" d="M1405,625 L1485,676"/>
<path marker-end="url(#s-a20)" d="M1410,620 C1500,650 1570,665 1606,678"/>
<path stroke-width="3" marker-end="url(#m-a20)" d="M1413,613 C1500,660 1700,650 1800,660 C1850,665 1870,672 1891,679"/>
</g>
<g stroke="#e60db0" stroke-width="1">
<path marker-end="url(#s-a21)" d="M1438,622 C1300,650 1150,680 1092,692"/>
<path marker-end="url(#s-a21)" d="M1460,629 L1418,676"/>
<path marker-end="url(#s-a21)" d="M1496,629 L1518,676"/>
<path marker-end="url(#s-a21)" d="M1530,625 L1618,676"/>
<path marker-end="url(#s-a21)" d="M1532,618 C1650,650 1720,660 1757,678"/>
</g>
<g stroke="#40a8d0" stroke-width="1">
<path marker-end="url(#s-a26)" d="M1565,625 C1450,650 1370,670 1326,679"/>
<path marker-end="url(#s-a26)" d="M1590,629 L1552,676"/>
<path marker-end="url(#s-a26)" d="M1624,629 L1654,676"/>
<path marker-end="url(#s-a26)" d="M1650,620 L1757,676"/>
</g>
<g stroke="#a0dc80" stroke-width="1">
<path marker-end="url(#s-a25)" d="M1680,622 L1462,679"/>
<path marker-end="url(#s-a25)" d="M1718,629 L1690,676"/>
<path marker-end="url(#s-a25)" d="M1770,612 C1950,650 2150,670 2246,690"/>
<path marker-end="url(#s-a25)" d="M1675,615 C1300,640 800,670 444,698"/>
<path marker-end="url(#s-a25)" d="M1740,629 L1758,677"/>
</g>
<g stroke="#0c1f28" stroke-width="1">
<path marker-end="url(#s-a23)" d="M2000,612 C1850,640 1700,660 1620,679"/>
<path marker-end="url(#s-a23)" d="M2010,629 L1880,676"/>
<path marker-end="url(#s-a23)" d="M2030,629 L1988,676"/>
<path marker-end="url(#s-a23)" d="M2093,615 L2244,677"/>
<path marker-end="url(#s-a23)" d="M2040,629 L2012,868"/>
<path marker-end="url(#s-a23)" d="M2000,608 C1800,630 1650,650 1592,679"/>
</g>
<path stroke="#2ac8c8" stroke-width="5" marker-end="url(#l-a36v)" d="M442,711 L1081,794"/>
<path stroke="#30def2" stroke-width="2" marker-end="url(#m-a36k)" d="M1040,725 L1104,773"/>
<path stroke="#e00eb0" stroke-width="2" marker-end="url(#m-a36q)" d="M1225,725 L1160,773"/>
<path stroke="#c4aed2" stroke-width="1" marker-end="url(#s-a37k)" d="M1445,725 L1561,774"/>
<path stroke="#0b2424" stroke-width="1" marker-end="url(#s-a37q)" d="M1553,725 L1585,773"/>
<path stroke="#780005" stroke-width="1" marker-end="url(#s-a37v)" d="M1657,725 L1625,773"/>
<path stroke="#608aa6" stroke-width="3" marker-end="url(#m-a30q)" d="M1850,725 L1918,773"/>
<path stroke="#1390dc" stroke-width="3" marker-end="url(#m-a30k)" d="M1957,725 L1958,773"/>
<path stroke="#18c2b0" stroke-width="6" marker-end="url(#x-a30v)" d="M2250,712 L2006,790"/>
<path stroke="#16dbef" stroke-width="6" marker-end="url(#x-a36)" d="M1175,806 L1938,883"/>
<path stroke="#a0b464" stroke-width="1" marker-end="url(#s-a37)" d="M1653,808 L1932,877"/>
<path stroke="#3e7338" stroke-width="5" marker-end="url(#l-a30)" d="M1968,821 L1993,869"/>
<path stroke="#c98cf0" stroke-width="1" marker-end="url(#s-a35)" d="M2843,245 C2800,300 2773,380 2773,460 L2773,700 C2773,800 2500,860 2080,888"/>
</g>
<g id="n-embed" class="n"><rect x="1294" y="5" width="86" height="48" rx="14" fill="#5ea864"/><text x="1337" y="35">embed</text></g>
<g id="n-a0-5-q" class="n"><rect x="550" y="101" width="116" height="48" rx="14" fill="#4cf24a"/><text x="608" y="131">&lt;a0.5_q&gt;</text></g>
<g id="n-a0-5-k" class="n"><rect x="691" y="101" width="114" height="48" rx="14" fill="#4f6f54"/><text x="748" y="131">&lt;a0.5_k&gt;</text></g>
<g id="n-a0-5-v" class="n"><rect x="830" y="101" width="114" height="48" rx="14" fill="#5eeedb"/><text x="887" y="131">&lt;a0.5_v&gt;</text></g>
<g id="n-a0-0-q" class="n"><rect x="1070" y="101" width="116" height="48" rx="14" fill="#7a5000"/><text x="1128" y="131">&lt;a0.0_q&gt;</text></g>
<g id="n-a0-0-k" class="n"><rect x="1211" y="101" width="114" height="48" rx="14" fill="#21f23c"/><text x="1268" y="131">&lt;a0.0_k&gt;</text></g>
<g id="n-a0-0-v" class="n"><rect x="1350" y="101" width="114" height="48" rx="14" fill="#c48f6a"/><text x="1407" y="131">&lt;a0.0_v&gt;</text></g>
<g id="n-a0-1-q" class="n"><rect x="1488" y="101" width="116" height="48" rx="14" fill="#523812"/><text x="1546" y="131">&lt;a0.1_q&gt;</text></g>
<g id="n-a0-1-k" class="n"><rect x="1629" y="101" width="114" height="48" rx="14" fill="#a208c4"/><text x="1686" y="131">&lt;a0.1_k&gt;</text></g>
<g id="n-a0-1-v" class="n"><rect x="1768" y="101" width="114" height="48" rx="14" fill="#eea914"/><text x="1825" y="131">&lt;a0.1_v&gt;</text></g>
<g id="n-a0-2-v" class="n"><rect x="2009" y="101" width="114" height="48" rx="14" fill="#a6b04c"/><text x="2066" y="131">&lt;a0.2_v&gt;</text></g>
<g id="n-a3-5-q" class="n"><rect x="2736" y="101" width="116" height="48" rx="14" fill="#63ab6a"/><text x="2794" y="131">&lt;a3.5_q&gt;</text></g>
<g id="n-a3-5-v" class="n"><rect x="2878" y="101" width="114" height="48" rx="14" fill="#d82c04"/><text x="2935" y="131">&lt;a3.5_v&gt;</text></g>
<g id="n-a3-5-k" class="n"><rect x="3015" y="101" width="116" height="48" rx="14" fill="#1021f0"/><text x="3073" y="131">&lt;a3.5_k&gt;</text></g>
<g id="n-a2-2-v" class="n"><rect x="144" y="197" width="114" height="48" rx="14" fill="#3bc634"/><text x="201" y="227">&lt;a2.2_v&gt;</text></g>
<g id="n-a0-5" class="n"><rect x="745" y="197" width="94" height="48" rx="14" fill="#e2d6d2"/><text x="792" y="227">&lt;a0.5&gt;</text></g>
<g id="n-a0-0" class="n"><rect x="1278" y="197" width="94" height="48" rx="14" fill="#8fc3f8"/><text x="1325" y="227">&lt;a0.0&gt;</text></g>
<g id="n-a0-1" class="n"><rect x="1694" y="197" width="94" height="48" rx="14" fill="#005aa0"/><text x="1741" y="227">&lt;a0.1&gt;</text></g>
<g id="n-a0-2" class="n"><rect x="1971" y="197" width="94" height="48" rx="14" fill="#33c322"/><text x="2018" y="227">&lt;a0.2&gt;</text></g>
<g id="n-a0-3" class="n"><rect x="2090" y="197" width="94" height="48" rx="14" fill="#a75bd3"/><text x="2137" y="227">&lt;a0.3&gt;</text></g>
<g id="n-a0-7" class="n"><rect x="2208" y="197" width="94" height="48" rx="14" fill="#0a17f6"/><text x="2255" y="227">&lt;a0.7&gt;</text></g>
<g id="n-a3-5" class="n"><rect x="2817" y="197" width="94" height="48" rx="14" fill="#b55de8"/><text x="2864" y="227">&lt;a3.5&gt;</text></g>
<g id="n-a1-0-v" class="n"><rect x="499" y="293" width="114" height="48" rx="14" fill="#8abfb0"/><text x="556" y="323">&lt;a1.0_v&gt;</text></g>
<g id="n-a1-0-q" class="n"><rect x="638" y="293" width="116" height="48" rx="14" fill="#a67f8b"/><text x="696" y="323">&lt;a1.0_q&gt;</text></g>
<g id="n-a1-0-k" class="n"><rect x="828" y="293" width="116" height="48" rx="14" fill="#acf552"/><text x="886" y="323">&lt;a1.0_k&gt;</text></g>
<g id="n-a2-0-q" class="n"><rect x="1018" y="293" width="116" height="48" rx="14" fill="#0473bb"/><text x="1076" y="323">&lt;a2.0_q&gt;</text></g>
<g id="n-a1-2-v" class="n"><rect x="1464" y="293" width="114" height="48" rx="14" fill="#8c5f9f"/><text x="1521" y="323">&lt;a1.2_v&gt;</text></g>
<g id="n-a2-3-q" class="n"><rect x="1604" y="293" width="114" height="48" rx="14" fill="#245f6c"/><text x="1661" y="323">&lt;a2.3_q&gt;</text></g>
<g id="n-a1-2-q" class="n"><rect x="1946" y="293" width="116" height="48" rx="14" fill="#159bf0"/><text x="2004" y="323">&lt;a1.2_q&gt;</text></g>
<g id="n-a1-4-v" class="n"><rect x="2189" y="293" width="114" height="48" rx="14" fill="#5d0c52"/><text x="2246" y="323">&lt;a1.4_v&gt;</text></g>
<g id="n-a1-6" class="n"><rect x="550" y="389" width="94" height="48" rx="14" fill="#eef2c0"/><text x="597" y="419">&lt;a1.6&gt;</text></g>
<g id="n-a1-5" class="n"><rect x="669" y="389" width="94" height="48" rx="14" fill="#887a24"/><text x="716" y="419">&lt;a1.5&gt;</text></g>
<g id="n-a1-7" class="n"><rect x="788" y="389" width="94" height="48" rx="14" fill="#2ea30c"/><text x="835" y="419">&lt;a1.7&gt;</text></g>
<g id="n-a1-0" class="n"><rect x="1009" y="389" width="94" height="48" rx="14" fill="#d9c200"/><text x="1056" y="419">&lt;a1.0&gt;</text></g>
<g id="n-a1-2" class="n"><rect x="1582" y="389" width="94" height="48" rx="14" fill="#7a5e47"/><text x="1629" y="419">&lt;a1.2&gt;</text></g>
<g id="n-a1-4" class="n"><rect x="1870" y="389" width="94" height="48" rx="14" fill="#74646c"/><text x="1917" y="419">&lt;a1.4&gt;</text></g>
<g id="n-a2-3-v" class="n"><rect x="2395" y="389" width="116" height="48" rx="14" fill="#5ea4a4"/><text x="2453" y="419">&lt;a2.3_v&gt;</text></g>
<g id="n-a2-2-q" class="n"><rect x="661" y="485" width="116" height="48" rx="14" fill="#b82746"/><text x="719" y="515">&lt;a2.2_q&gt;</text></g>
<g id="n-a2-2-k" class="n"><rect x="802" y="485" width="114" height="48" rx="14" fill="#a29ef2"/><text x="859" y="515">&lt;a2.2_k&gt;</text></g>
<g id="n-a2-0-k" class="n"><rect x="1144" y="485" width="114" height="48" rx="14" fill="#700ab0"/><text x="1201" y="515">&lt;a2.0_k&gt;</text></g>
<g id="n-a2-0-v" class="n"><rect x="1334" y="485" width="114" height="48" rx="14" fill="#4ba17f"/><text x="1391" y="515">&lt;a2.0_v&gt;</text></g>
<g id="n-a2-6-v" class="n"><rect x="1472" y="485" width="114" height="48" rx="14" fill="#39dc3c"/><text x="1529" y="515">&lt;a2.6_v&gt;</text></g>
<g id="n-a2-5-v" class="n"><rect x="1661" y="485" width="114" height="48" rx="14" fill="#41873d"/><text x="1718" y="515">&lt;a2.5_v&gt;</text></g>
<g id="n-a2-1-v" class="n"><rect x="1952" y="485" width="114" height="48" rx="14" fill="#9ccc5a"/><text x="2009" y="515">&lt;a2.1_v&gt;</text></g>
<g id="n-a2-2" class="n"><rect x="1122" y="581" width="94" height="48" rx="14" fill="#620550"/><text x="1169" y="611">&lt;a2.2&gt;</text></g>
<g id="n-a2-0" class="n"><rect x="1319" y="581" width="94" height="48" rx="14" fill="#94a0b0"/><text x="1366" y="611">&lt;a2.0&gt;</text></g>
<g id="n-a2-1" class="n"><rect x="1438" y="581" width="94" height="48" rx="14" fill="#e60db0"/><text x="1485" y="611">&lt;a2.1&gt;</text></g>
<g id="n-a2-6" class="n"><rect x="1557" y="581" width="94" height="48" rx="14" fill="#40a8d0"/><text x="1604" y="611">&lt;a2.6&gt;</text></g>
<g id="n-a2-5" class="n"><rect x="1675" y="581" width="94" height="48" rx="14" fill="#a0dc80"/><text x="1722" y="611">&lt;a2.5&gt;</text></g>
<g id="n-a2-3" class="n"><rect x="1999" y="581" width="94" height="48" rx="14" fill="#0c1f28"/><text x="2046" y="611">&lt;a2.3&gt;</text></g>
<g id="n-a3-6-v" class="n"><rect x="328" y="677" width="114" height="48" rx="14" fill="#2ac8c8"/><text x="385" y="707">&lt;a3.6_v&gt;</text></g>
<g id="n-a3-6-k" class="n"><rect x="976" y="677" width="114" height="48" rx="14" fill="#30def2"/><text x="1033" y="707">&lt;a3.6_k&gt;</text></g>
<g id="n-a3-6-q" class="n"><rect x="1196" y="677" width="116" height="48" rx="14" fill="#e00eb0"/><text x="1254" y="707">&lt;a3.6_q&gt;</text></g>
<g id="n-a3-7-k" class="n"><rect x="1338" y="677" width="114" height="48" rx="14" fill="#c4aed2"/><text x="1395" y="707">&lt;a3.7_k&gt;</text></g>
<g id="n-a3-7-q" class="n"><rect x="1477" y="677" width="116" height="48" rx="14" fill="#0b2424"/><text x="1535" y="707">&lt;a3.7_q&gt;</text></g>
<g id="n-a3-7-v" class="n"><rect x="1616" y="677" width="116" height="48" rx="14" fill="#780005"/><text x="1674" y="707">&lt;a3.7_v&gt;</text></g>
<g id="n-a3-0-q" class="n"><rect x="1756" y="677" width="116" height="48" rx="14" fill="#608aa6"/><text x="1814" y="707">&lt;a3.0_q&gt;</text></g>
<g id="n-a3-0-k" class="n"><rect x="1896" y="677" width="116" height="48" rx="14" fill="#1390dc"/><text x="1954" y="707">&lt;a3.0_k&gt;</text></g>
<g id="n-a3-0-v" class="n"><rect x="2247" y="677" width="116" height="48" rx="14" fill="#18c2b0"/><text x="2305" y="707">&lt;a3.0_v&gt;</text></g>
<g id="n-a3-6" class="n"><rect x="1081" y="773" width="94" height="48" rx="14" fill="#16dbef"/><text x="1128" y="803">&lt;a3.6&gt;</text></g>
<g id="n-a3-7" class="n"><rect x="1559" y="773" width="94" height="48" rx="14" fill="#a0b464"/><text x="1606" y="803">&lt;a3.7&gt;</text></g>
<g id="n-a3-0" class="n"><rect x="1911" y="773" width="94" height="48" rx="14" fill="#3e7338"/><text x="1958" y="803">&lt;a3.0&gt;</text></g>
<g id="n-resid-post" class="n"><rect x="1931" y="869" width="148" height="48" rx="14" fill="#c4c84e"/><text x="2005" y="899">&lt;resid_post&gt;</text></g>
</svg>
